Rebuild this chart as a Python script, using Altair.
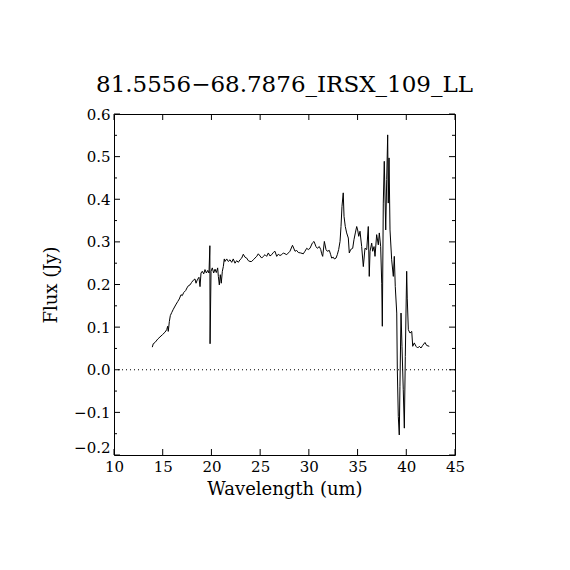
import altair as alt
import pandas as pd

TITLE = "81.5556\u221268.7876_IRSX_109_LL"
X_TITLE = "Wavelength (um)"
Y_TITLE = "Flux (Jy)"

wavelength = [
    13.93, 14.03, 14.21, 14.49, 14.72, 14.96, 15.23, 15.41, 15.51, 15.57,
    15.68, 15.78, 15.92, 16.09, 16.33, 16.54, 16.70, 16.88, 17.01, 17.15,
    17.36, 17.49, 17.63, 17.80, 17.97, 18.14, 18.31, 18.42, 18.55, 18.72,
    18.83, 18.93, 19.06, 19.21, 19.34, 19.48, 19.62, 19.75, 19.84, 19.86,
    19.96, 20.09, 20.23, 20.37, 20.50, 20.64, 20.71, 20.81, 20.91, 21.01,
    21.12, 21.22, 21.32, 21.39, 21.57, 21.73, 21.91, 22.08, 22.24, 22.42,
    22.59, 22.76, 22.93, 23.11, 23.27, 23.45, 23.62, 23.78, 23.96, 24.13,
    24.30, 24.47, 24.65, 24.81, 24.99, 25.16, 25.32, 25.50, 25.67, 25.84,
    26.01, 26.19, 26.35, 26.52, 26.70, 26.86, 27.04, 27.21, 27.38, 27.55,
    27.73, 27.89, 28.06, 28.32, 28.58, 28.75, 28.92, 29.16, 29.43, 29.60,
    29.78, 29.94, 30.12, 30.35, 30.53, 30.73, 30.87, 31.07, 31.22, 31.32,
    31.42, 31.59, 31.76, 31.89, 32.10, 32.24, 32.34, 32.51, 32.61, 32.79,
    32.92, 33.06, 33.20, 33.30, 33.40, 33.53, 33.61, 33.74, 33.88, 34.05,
    34.15, 34.29, 34.50, 34.63, 34.77, 34.91, 35.01, 35.12, 35.25, 35.42,
    35.59, 35.76, 35.94, 36.10, 36.20, 36.28, 36.45, 36.55, 36.69, 36.79,
    36.96, 37.13, 37.23, 37.37, 37.48, 37.54, 37.64, 37.74, 37.89, 37.99,
    38.09, 38.15, 38.23, 38.33, 38.50, 38.67, 38.77, 38.87, 39.02, 39.08,
    39.18, 39.28, 39.35, 39.46, 39.56, 39.69, 39.80, 39.90, 39.97, 40.04,
    40.10, 40.21, 40.38, 40.56, 40.66, 40.82, 41.00, 41.17, 41.34, 41.51,
    41.68, 41.92, 42.09, 42.36,
]
flux = [
    0.053, 0.061, 0.064, 0.072, 0.077, 0.082, 0.088, 0.094, 0.102, 0.090,
    0.113, 0.127, 0.134, 0.142, 0.152, 0.160, 0.166, 0.176, 0.174, 0.181,
    0.186, 0.192, 0.197, 0.199, 0.205, 0.210, 0.213, 0.203, 0.211, 0.217,
    0.195, 0.227, 0.231, 0.225, 0.235, 0.227, 0.233, 0.227, 0.291, 0.061,
    0.231, 0.239, 0.227, 0.236, 0.228, 0.239, 0.219, 0.199, 0.223, 0.203,
    0.231, 0.242, 0.260, 0.254, 0.260, 0.254, 0.258, 0.252, 0.260, 0.250,
    0.256, 0.252, 0.258, 0.262, 0.271, 0.264, 0.262, 0.256, 0.254, 0.254,
    0.258, 0.262, 0.266, 0.272, 0.267, 0.262, 0.266, 0.270, 0.266, 0.274,
    0.267, 0.270, 0.275, 0.278, 0.266, 0.271, 0.268, 0.270, 0.274, 0.272,
    0.270, 0.274, 0.278, 0.292, 0.278, 0.280, 0.275, 0.274, 0.272, 0.278,
    0.285, 0.282, 0.285, 0.297, 0.301, 0.289, 0.285, 0.289, 0.282, 0.272,
    0.266, 0.301, 0.282, 0.278, 0.280, 0.270, 0.262, 0.264, 0.260, 0.262,
    0.270, 0.282, 0.301, 0.336, 0.383, 0.415, 0.360, 0.336, 0.321, 0.309,
    0.274, 0.282, 0.285, 0.305, 0.321, 0.336, 0.328, 0.313, 0.325, 0.289,
    0.242, 0.285, 0.282, 0.336, 0.219, 0.278, 0.297, 0.278, 0.289, 0.266,
    0.317, 0.293, 0.321, 0.289, 0.203, 0.102, 0.391, 0.489, 0.328, 0.446,
    0.551, 0.391, 0.497, 0.328, 0.258, 0.219, 0.266, 0.195, 0.133, 0.000,
    -0.110, -0.153, -0.039, 0.133, 0.055, -0.047, -0.137, 0.031, 0.133, 0.231,
    0.168, 0.094, 0.086, 0.090, 0.055, 0.063, 0.055, 0.051, 0.055, 0.051,
    0.057, 0.064, 0.057, 0.055,
]

x_ticks = [10, 15, 20, 25, 30, 35, 40, 45]
y_ticks = [-0.2, -0.1, 0.0, 0.1, 0.2, 0.3, 0.4, 0.5, 0.6]
y_minor = [-0.15, -0.05, 0.05, 0.15, 0.25, 0.35, 0.45, 0.55]

W = 341
H = 341
FONT = "DejaVu Serif"
MAJOR = 6
MINOR = 3

df = pd.DataFrame({"wl": wavelength, "flux": flux, "i": list(range(len(flux)))})
xt = pd.DataFrame({"wl": x_ticks})
yt = pd.DataFrame({"flux": y_ticks})
ym = pd.DataFrame({"flux": y_minor})
zero = pd.DataFrame({"flux": [0.0]})

xscale = alt.Scale(domain=[10, 45], nice=False, zero=False)
yscale = alt.Scale(domain=[-0.2, 0.6], nice=False, zero=False)

x_axis = alt.Axis(
    values=x_ticks, format="d", title=X_TITLE, grid=False, ticks=False, tickSize=0,
    domain=False, labelPadding=4, labelFont=FONT, labelFontSize=15, labelColor="black",
    labelFlush=False, titleFont=FONT, titleFontSize=18, titleFontWeight="normal",
    titleColor="black", titleY=34, titleBaseline="middle",
)
y_axis = alt.Axis(
    values=y_ticks, format=".1f", title=Y_TITLE, grid=False, ticks=False, tickSize=0,
    domain=False, labelPadding=4, labelFont=FONT, labelFontSize=15, labelColor="black",
    labelFlush=False,
    labelBaseline={"condition": {"test": "datum.value < -0.15", "value": "bottom"}, "value": "middle"},
    titleFont=FONT, titleFontSize=18, titleFontWeight="normal",
    titleColor="black", titleX=-63, titleY=H / 2, titleBaseline="middle", titleAngle=-90,
)

X = alt.X("wl:Q", scale=xscale, axis=x_axis)
Y = alt.Y("flux:Q", scale=yscale, axis=y_axis)

line = alt.Chart(df).mark_line(color="black", strokeWidth=1).encode(
    x=X, y=Y, order="i:Q",
)

zline = alt.Chart(zero).mark_rule(color="black", strokeWidth=1, strokeDash=[1, 3]).encode(
    y=Y
)

def xtick(y0, y1):
    return alt.Chart(xt).mark_rule(color="black", strokeWidth=1).encode(
        x=X, y=alt.value(y0), y2=alt.value(y1)
    )

def ytick(data, x0, x1):
    return alt.Chart(data).mark_rule(color="black", strokeWidth=1).encode(
        y=Y, x=alt.value(x0), x2=alt.value(x1)
    )

ticks = [
    xtick(H, H - MAJOR), xtick(0, MAJOR),
    ytick(yt, 0, MAJOR), ytick(yt, W, W - MAJOR),
    ytick(ym, 0, MINOR), ytick(ym, W, W - MINOR),
]

chart = alt.layer(line, zline, *ticks).properties(
    width=W,
    height=H,
    title=alt.TitleParams(
        TITLE, font=FONT, fontSize=23, fontWeight="normal", color="black",
        anchor="middle", frame="group", baseline="alphabetic", offset=-8,
    ),
    padding={"left": 106, "top": 106, "right": 107, "bottom": 107},
    autosize=alt.AutoSizeParams(type="none"),
    background="white",
).configure_view(stroke="black", strokeWidth=1)

chart.save("out.html", embed_options={"renderer": "svg", "actions": False})
